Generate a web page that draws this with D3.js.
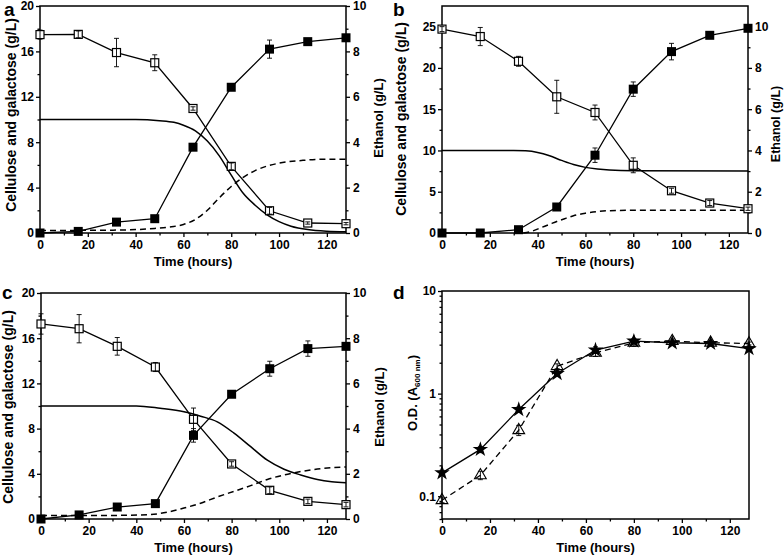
<!DOCTYPE html>
<html><head><meta charset="utf-8">
<script src="https://cdn.jsdelivr.net/npm/d3@7"></script>
<style>
body{margin:0;background:#fff}
svg{display:block}
text{font-family:"Liberation Sans",Arial,sans-serif;font-weight:bold;fill:#000}
</style>
</head><body>
<svg id="chart" width="784" height="558"></svg>
<script>
// ---------- data ----------
const hours = [0, 16, 32, 48, 64, 80, 96, 112, 128];

// panel a
const aSugar      = [17.48, 17.5, 15.9, 15.0, 10.97, 5.87, 1.96, 0.88, 0.82];
const aSugarErr   = [0.4, 0.3, 1.25, 0.7, 0.15, 0.3, 0.3, 0.1, 0.1];
const aEthanol    = [0, 0.07, 0.48, 0.63, 3.78, 6.42, 8.1, 8.43, 8.6];
const aEthanolErr = [0, 0, 0.05, 0.05, 0.1, 0.1, 0.4, 0.1, 0.1];
const aSolidT = [0, 40, 50, 56, 60, 65, 70, 75, 80, 85, 90, 95, 100, 105, 112, 120, 128];
const aSolidV = [10, 10, 9.9, 9.75, 9.5, 9.0, 8.1, 6.8, 5.1, 3.5, 2.45, 1.6, 1.0, 0.6, 0.3, 0.15, 0.1];
const aDashT  = [0, 30, 40, 48, 55, 60, 65, 70, 75, 80, 85, 90, 95, 100, 110, 120, 128];
const aDashV  = [0.22, 0.25, 0.3, 0.4, 0.55, 0.75, 1.2, 2.0, 3.1, 4.1, 4.9, 5.5, 5.9, 6.15, 6.4, 6.5, 6.5];

// panel b
const bSugar      = [24.7, 23.8, 20.8, 16.5, 14.6, 8.2, 5.12, 3.63, 2.94];
const bSugarErr   = [0.3, 1.1, 0.6, 2.0, 0.9, 0.9, 0.3, 0.3, 0.2];
const bEthanol    = [0, 0, 0.16, 1.26, 3.77, 6.97, 8.79, 9.58, 9.92];
const bEthanolErr = [0, 0, 0.05, 0.1, 0.35, 0.35, 0.4, 0.1, 0.1];
const bSolidT = [0, 30, 35, 40, 45, 50, 55, 60, 65, 70, 80, 128];
const bSolidV = [10, 10, 9.95, 9.75, 9.35, 8.8, 8.3, 7.95, 7.75, 7.63, 7.55, 7.52];
const bDashT  = [34, 38, 41, 45, 48, 52, 55, 60, 65, 70, 80, 128];
const bDashV  = [0, 0.25, 0.6, 1.05, 1.4, 1.8, 2.09, 2.4, 2.6, 2.7, 2.75, 2.75];

// panel c
const cSugar      = [17.26, 16.84, 15.28, 13.45, 8.82, 4.87, 2.54, 1.56, 1.27];
const cSugarErr   = [0.9, 1.25, 0.78, 0.4, 1.0, 0.2, 0.3, 0.2, 0.2];
const cEthanol    = [0, 0.18, 0.53, 0.68, 3.7, 5.52, 6.65, 7.54, 7.64];
const cEthanolErr = [0, 0, 0.05, 0.05, 0.3, 0.1, 0.33, 0.34, 0.1];
const cSolidT = [0, 40, 50, 60, 67, 74, 81, 88, 95, 102, 109, 116, 122, 128];
const cSolidV = [10, 10, 9.8, 9.5, 9.1, 8.6, 7.6, 6.4, 5.2, 4.4, 3.9, 3.5, 3.3, 3.2];
const cDashT  = [0, 20, 35, 46, 53, 60, 67, 74, 81, 88, 95, 102, 109, 116, 128];
const cDashV  = [0.3, 0.3, 0.33, 0.4, 0.6, 0.97, 1.4, 1.95, 2.45, 2.95, 3.5, 3.9, 4.2, 4.42, 4.6];

// panel d
const dStar       = [0.169, 0.286, 0.70, 1.57, 2.66, 3.25, 3.13, 3.08, 2.74];
const dStarErr    = [0.01, 0.02, 0.04, 0.1, 0.2, 0.2, 0.1, 0.1, 0.1];
const dTriangle   = [0.0914, 0.16, 0.44, 1.85, 2.5, 3.13, 3.25, 3.13, 3.08];
const dTriangleErr= [0.005, 0.015, 0.05, 0.1, 0.2, 0.25, 0.15, 0.15, 0.1];

const xMajor = [0, 20, 40, 60, 80, 100, 120];
const xMinor = [10, 30, 50, 70, 90, 110];
const logMajor = [0.1, 1, 10];
const logMinor = [0.06, 0.07, 0.08, 0.09, 0.2, 0.3, 0.4, 0.5, 0.6, 0.7, 0.8, 0.9, 2, 3, 4, 5, 6, 7, 8, 9];

const svg = d3.select("#chart");

function drawAxisTicks(g, axis) { g.call(axis); g.select(".domain").remove(); g.selectAll("text").style("font-size", "12px").style("font-family", "Liberation Sans, Arial, sans-serif").style("font-weight", "bold"); g.selectAll("line").attr("stroke", "#000").attr("stroke-width", 1.3); }

function sugarPanel(o) {
  const g = svg.append("g");
  const x = d3.scaleLinear().domain([0, 128]).range([o.l, o.r]);
  const yL = d3.scaleLinear().domain(o.leftDom).range([o.b, o.t]);
  const yR = d3.scaleLinear().domain(o.rightDom).range([o.b, o.t]);

  // axes
  drawAxisTicks(g.append("g").attr("transform", `translate(0,${o.b})`),
    d3.axisBottom(x).tickValues(xMajor).tickSize(4).tickPadding(3));
  drawAxisTicks(g.append("g").attr("transform", `translate(0,${o.b})`),
    d3.axisBottom(x).tickValues(xMinor).tickSize(2.5).tickFormat(""));
  drawAxisTicks(g.append("g").attr("transform", `translate(${o.l},0)`),
    d3.axisLeft(yL).tickValues(o.leftMajor).tickSize(4).tickPadding(2));
  drawAxisTicks(g.append("g").attr("transform", `translate(${o.l},0)`),
    d3.axisLeft(yL).tickValues(o.leftMinor).tickSize(2.5).tickFormat(""));
  drawAxisTicks(g.append("g").attr("transform", `translate(${o.r},0)`),
    d3.axisRight(yR).tickValues(o.rightMajor).tickSize(4).tickPadding(3));
  drawAxisTicks(g.append("g").attr("transform", `translate(${o.r},0)`),
    d3.axisRight(yR).tickValues(o.rightMinor).tickSize(2.5).tickFormat(""));

  g.append("rect").attr("x", o.l).attr("y", o.t).attr("width", o.r - o.l).attr("height", o.b - o.t)
    .attr("fill", "none").attr("stroke", "#000").attr("stroke-width", 1.5);

  // model curves
  const curve = d3.line().x(d => x(d[0])).y(d => yL(d[1])).curve(d3.curveMonotoneX);
  g.append("path").attr("d", curve(d3.zip(o.solidT, o.solidV)))
    .attr("fill", "none").attr("stroke", "#000").attr("stroke-width", 1.5);
  g.append("path").attr("d", curve(d3.zip(o.dashT, o.dashV)))
    .attr("fill", "none").attr("stroke", "#000").attr("stroke-width", 1.5).attr("stroke-dasharray", "6,4");

  // data lines
  const lineL = d3.line().x((d, i) => x(hours[i])).y(d => yL(d));
  const lineR = d3.line().x((d, i) => x(hours[i])).y(d => yR(d));
  g.append("path").attr("d", lineL(o.sugar)).attr("fill", "none").attr("stroke", "#000").attr("stroke-width", 1.3);
  g.append("path").attr("d", lineR(o.ethanol)).attr("fill", "none").attr("stroke", "#000").attr("stroke-width", 1.3);

  const sz = 9;
  // ethanol filled squares
  g.selectAll(null).data(o.ethanol).join("rect")
    .attr("x", (d, i) => x(hours[i]) - sz / 2).attr("y", d => yR(d) - sz / 2)
    .attr("width", sz).attr("height", sz).attr("fill", "#000");
  // sugar open squares
  g.selectAll(null).data(o.sugar).join("rect")
    .attr("x", (d, i) => x(hours[i]) - sz / 2 + 0.5).attr("y", d => yL(d) - sz / 2 + 0.5)
    .attr("width", sz - 1).attr("height", sz - 1).attr("fill", "#fff").attr("stroke", "#000").attr("stroke-width", 1.2);

  // error bars
  function errBars(vals, errs, y) {
    vals.forEach((v, i) => {
      const e = errs[i]; if (!e) return;
      const cx = x(hours[i]);
      g.append("line").attr("x1", cx).attr("x2", cx).attr("y1", y(v - e)).attr("y2", y(v + e)).attr("stroke", "#000").attr("stroke-width", 0.9);
      [v - e, v + e].forEach(w => g.append("line").attr("x1", cx - 2.5).attr("x2", cx + 2.5).attr("y1", y(w)).attr("y2", y(w)).attr("stroke", "#000").attr("stroke-width", 0.9));
    });
  }
  errBars(o.sugar, o.sugarErr, yL);
  errBars(o.ethanol, o.ethanolErr, yR);

  // titles
  g.append("text").attr("x", (o.l + o.r) / 2).attr("y", o.b + 33).attr("text-anchor", "middle")
    .style("font-size", "13px").text("Time (hours)");
  g.append("text").attr("transform", `translate(${o.ltX},${o.ltY}) rotate(-90)`).attr("text-anchor", "middle")
    .attr("dy", "0.35em").style("font-size", "14px").text("Cellulose and galactose (g/L)");
  g.append("text").attr("transform", `translate(${o.rtX},${o.rtY}) rotate(-90)`).attr("text-anchor", "middle")
    .attr("dy", "0.35em").style("font-size", o.rtSize || "13px").text("Ethanol (g/L)");
  g.append("text").attr("x", o.letX).attr("y", o.letY).style("font-size", "19px").text(o.letter);
}

sugarPanel({
  l: 40, r: 346, t: 6, b: 233,
  leftDom: [0, 20], leftMajor: [0, 4, 8, 12, 16, 20], leftMinor: [2, 6, 10, 14, 18],
  rightDom: [0, 10], rightMajor: [0, 2, 4, 6, 8, 10], rightMinor: [1, 3, 5, 7, 9],
  sugar: aSugar, sugarErr: aSugarErr, ethanol: aEthanol, ethanolErr: aEthanolErr,
  solidT: aSolidT, solidV: aSolidV, dashT: aDashT, dashV: aDashV,
  ltX: 11, ltY: 115, rtX: 378, rtY: 118, letter: "a", letX: 4, letY: 16
});
sugarPanel({
  l: 442, r: 748, t: 6, b: 233,
  leftDom: [0, 27.5], leftMajor: [0, 5, 10, 15, 20, 25], leftMinor: [2.5, 7.5, 12.5, 17.5, 22.5],
  rightDom: [0, 11], rightMajor: [0, 2, 4, 6, 8, 10], rightMinor: [1, 3, 5, 7, 9],
  sugar: bSugar, sugarErr: bSugarErr, ethanol: bEthanol, ethanolErr: bEthanolErr,
  solidT: bSolidT, solidV: bSolidV, dashT: bDashT, dashV: bDashV,
  ltX: 401, ltY: 119, rtX: 776, rtY: 124, rtSize: "12.5px", letter: "b", letX: 393, letY: 16
});
sugarPanel({
  l: 41, r: 346, t: 293, b: 519,
  leftDom: [0, 20], leftMajor: [0, 4, 8, 12, 16, 20], leftMinor: [2, 6, 10, 14, 18],
  rightDom: [0, 10], rightMajor: [0, 2, 4, 6, 8, 10], rightMinor: [1, 3, 5, 7, 9],
  sugar: cSugar, sugarErr: cSugarErr, ethanol: cEthanol, ethanolErr: cEthanolErr,
  solidT: cSolidT, solidV: cSolidV, dashT: cDashT, dashV: cDashV,
  ltX: 8, ltY: 407, rtX: 379, rtY: 407, letter: "c", letX: 2, letY: 299
});

// panel d
(function () {
  const o = { l: 442, r: 749, t: 291, b: 519 };
  const g = svg.append("g");
  const x = d3.scaleLinear().domain([0, 128]).range([o.l, o.r]);
  const y = d3.scaleLog().domain([0.06, 10]).range([o.b, o.t]);

  drawAxisTicks(g.append("g").attr("transform", `translate(0,${o.b})`),
    d3.axisBottom(x).tickValues(xMajor).tickSize(4).tickPadding(3));
  drawAxisTicks(g.append("g").attr("transform", `translate(0,${o.b})`),
    d3.axisBottom(x).tickValues(xMinor).tickSize(2.5).tickFormat(""));
  drawAxisTicks(g.append("g").attr("transform", `translate(${o.l},0)`),
    d3.axisLeft(y).tickValues(logMajor).tickSize(4).tickPadding(2).tickFormat(d3.format("")));
  drawAxisTicks(g.append("g").attr("transform", `translate(${o.l},0)`),
    d3.axisLeft(y).tickValues(logMinor).tickSize(2.5).tickFormat(""));

  g.append("rect").attr("x", o.l).attr("y", o.t).attr("width", o.r - o.l).attr("height", o.b - o.t)
    .attr("fill", "none").attr("stroke", "#000").attr("stroke-width", 1.5);

  const line = d3.line().x((d, i) => x(hours[i])).y(d => y(d));
  g.append("path").attr("d", line(dTriangle)).attr("fill", "none").attr("stroke", "#000")
    .attr("stroke-width", 1.3).attr("stroke-dasharray", "6,4");
  g.append("path").attr("d", line(dStar)).attr("fill", "none").attr("stroke", "#000").attr("stroke-width", 1.3);

  function errBars(vals, errs) {
    vals.forEach((v, i) => {
      const e = errs[i]; const cx = x(hours[i]);
      g.append("line").attr("x1", cx).attr("x2", cx).attr("y1", y(v - e)).attr("y2", y(v + e)).attr("stroke", "#000").attr("stroke-width", 0.9);
      [v - e, v + e].forEach(w => g.append("line").attr("x1", cx - 2.5).attr("x2", cx + 2.5).attr("y1", y(w)).attr("y2", y(w)).attr("stroke", "#000").attr("stroke-width", 0.9));
    });
  }
  errBars(dTriangle, dTriangleErr);
  errBars(dStar, dStarErr);

  const tri = d3.symbol().type(d3.symbolTriangle).size(60);
  g.selectAll(null).data(dTriangle).join("path")
    .attr("transform", (d, i) => `translate(${x(hours[i])},${y(d)})`).attr("d", tri)
    .attr("fill", "none").attr("stroke", "#000").attr("stroke-width", 1.1);
  const star = d3.symbol().type(d3.symbolStar).size(75);
  g.selectAll(null).data(dStar).join("path")
    .attr("transform", (d, i) => `translate(${x(hours[i])},${y(d)})`).attr("d", star)
    .attr("fill", "#000");

  g.append("text").attr("x", (o.l + o.r) / 2).attr("y", o.b + 33).attr("text-anchor", "middle")
    .style("font-size", "13px").text("Time (hours)");
  const t = g.append("text").attr("transform", `translate(412,393) rotate(-90)`).attr("text-anchor", "middle")
    .attr("dy", "0.35em").style("font-size", "13px");
  t.append("tspan").text("O.D. (A");
  t.append("tspan").attr("dy", "3").style("font-size", "8px").text("600 nm");
  t.append("tspan").attr("dy", "-3").text(")");
  g.append("text").attr("x", 393).attr("y", 299).style("font-size", "19px").text("d");
})();
</script>
</body></html>
